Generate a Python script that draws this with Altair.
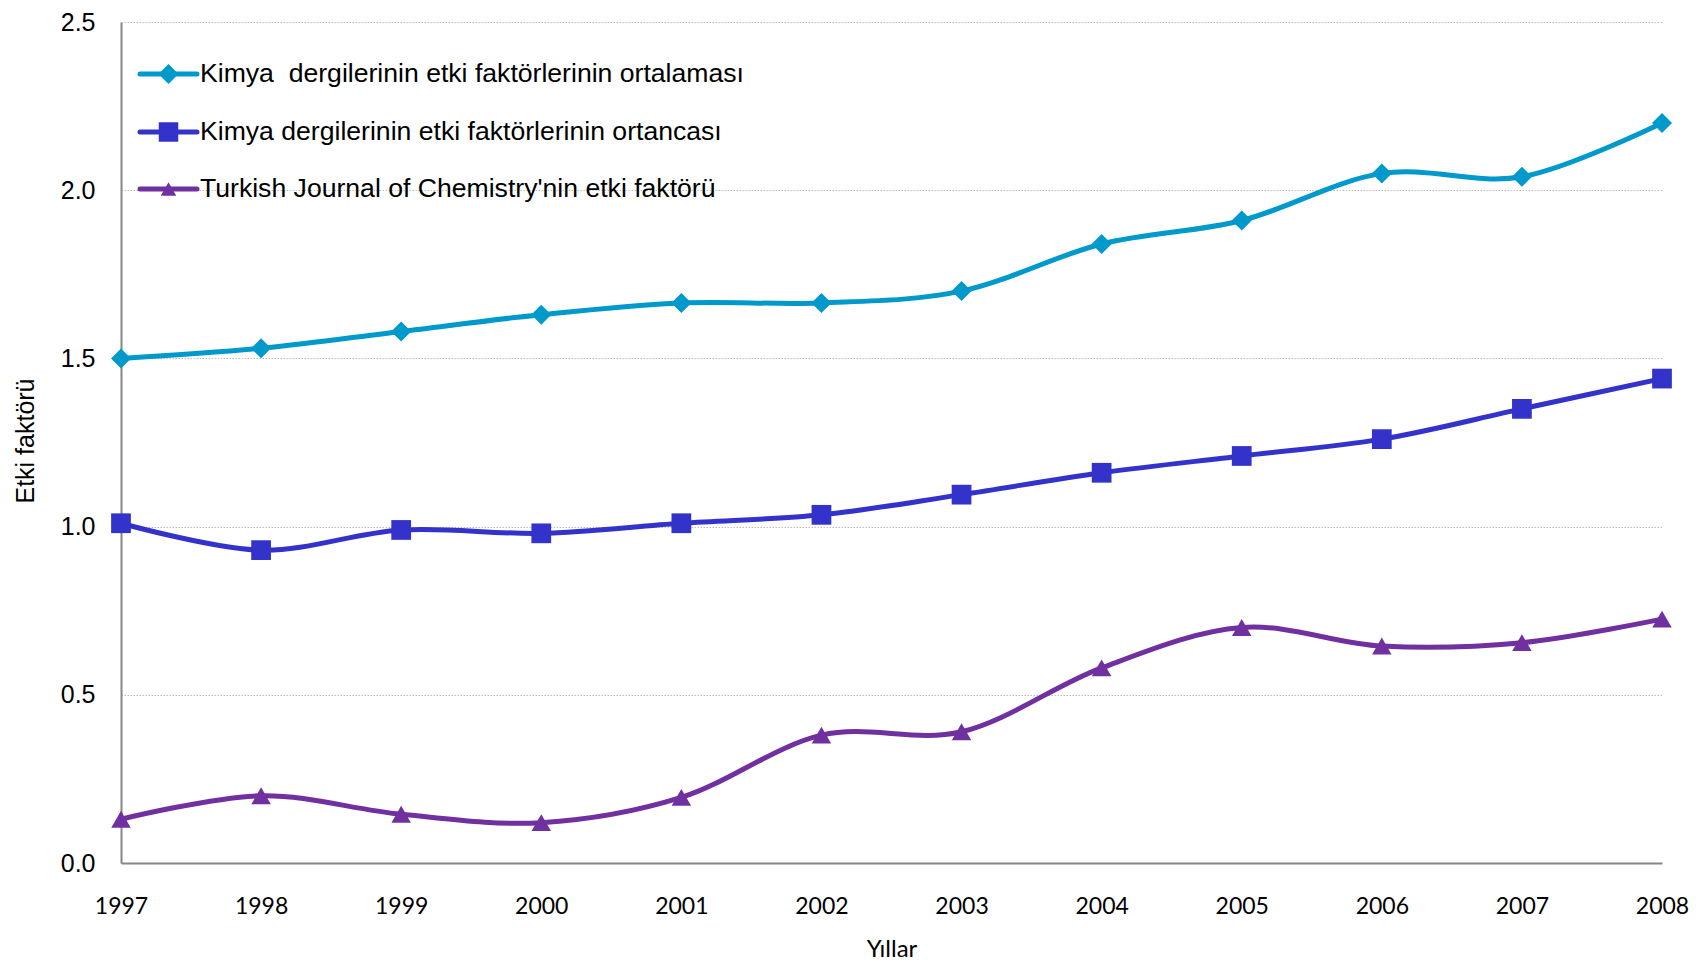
import altair as alt
import pandas as pd

# ---- data ----
years = [1997, 1998, 1999, 2000, 2001, 2002, 2003, 2004, 2005, 2006, 2007, 2008]
series_names = [
    "Kimya\u00a0 dergilerinin etki faktörlerinin ortalaması",
    "Kimya dergilerinin etki faktörlerinin ortancası",
    "Turkish Journal of Chemistry'nin etki faktörü",
]
mean_values = [1.50, 1.53, 1.58, 1.63, 1.665, 1.665, 1.70, 1.84, 1.91, 2.05, 2.04, 2.20]
median_values = [1.01, 0.93, 0.99, 0.98, 1.01, 1.035, 1.095, 1.16, 1.21, 1.26, 1.35, 1.44]
tjc_values = [0.13, 0.20, 0.145, 0.12, 0.195, 0.38, 0.39, 0.58, 0.70, 0.645, 0.655, 0.725]
y_ticks = [0.0, 0.5, 1.0, 1.5, 2.0, 2.5]

colors = ["#0099CC", "#3333CC", "#7030A0"]
shapes = ["diamond", "square", "triangle-up"]
sizes = [400, 380, 240]

all_values = [mean_values, median_values, tjc_values]
rows = []
for name, vals in zip(series_names, all_values):
    for yr, v in zip(years, vals):
        rows.append({"year": yr, "value": v, "series": name})
df = pd.DataFrame(rows)

W, H = 1541, 841

x_enc = alt.X(
    "year:Q",
    scale=alt.Scale(domain=[years[0], years[-1]], nice=False, zero=False),
    axis=alt.Axis(
        values=years, format="d", title="Yıllar", grid=False, ticks=False, tickSize=0,
        labelPadding=50, labelBaseline="alphabetic", labelFlush=False, labelOverlap=False,
        labelFont="Lato", labelFontSize=23, labelColor="black",
        domainColor="#868686", domainWidth=2,
        titleFont="Lato", titleFontSize=24, titleFontWeight="normal", titleColor="black",
        titleY=93, titleBaseline="alphabetic",
    ),
)
y_enc = alt.Y(
    "value:Q",
    scale=alt.Scale(domain=[0, 2.5], nice=False),
    axis=alt.Axis(
        values=y_ticks, format=".1f", title="Etki faktörü", grid=True,
        gridColor="#BFBFBF", gridDash=[1.5, 1.5], gridWidth=1,
        ticks=False, tickSize=0, labelPadding=26,
        labelFont="Liberation Sans", labelFontSize=25, labelColor="black",
        domainColor="#868686", domainWidth=2,
        titleFont="Liberation Sans", titleFontSize=25, titleFontWeight="normal",
        titleColor="black", titleX=-88, titleY=H / 2 - 2, titleBaseline="alphabetic",
    ),
)

color_scale = alt.Scale(domain=series_names, range=colors)
shape_scale = alt.Scale(domain=series_names, range=shapes)
size_scale = alt.Scale(domain=series_names, range=sizes)

base = alt.Chart(df)
lines = base.mark_line(interpolate="cardinal", strokeWidth=5).encode(
    x=x_enc, y=y_enc,
    color=alt.Color("series:N", scale=color_scale, legend=None),
    detail="series:N",
)
points = base.mark_point(filled=True, opacity=1).encode(
    x="year:Q", y="value:Q",
    color=alt.Color("series:N", scale=color_scale, legend=None),
    shape=alt.Shape("series:N", scale=shape_scale, legend=None),
    size=alt.Size("series:N", scale=size_scale, legend=None),
)

# ---- manual legend (layout constants in pixels) ----
legend_y = [52, 110, 167]
legend_layers = []
for i, name in enumerate(series_names):
    ldf = pd.DataFrame({"label": [name]})
    lc = alt.Chart(ldf)
    legend_layers.append(
        lc.mark_rule(color=colors[i], strokeWidth=5, strokeCap="round").encode(
            x=alt.value(19), x2=alt.value(76), y=alt.value(legend_y[i])
        )
    )
    legend_layers.append(
        lc.mark_point(shape=shapes[i], filled=True, opacity=1, color=colors[i],
                      size=sizes[i]).encode(x=alt.value(47.5), y=alt.value(legend_y[i]))
    )
    legend_layers.append(
        lc.mark_text(align="left", baseline="middle", font="Liberation Sans",
                     fontSize=26.6, color="black").encode(
            x=alt.value(79), y=alt.value(legend_y[i]), text="label:N"
        )
    )

chart = alt.layer(lines, points, *legend_layers).properties(
    width=W, height=H,
    autosize=alt.AutoSizeParams(type="none"),
    padding={"left": 113, "top": 14, "right": 37, "bottom": 100},
    background="white",
).configure_view(stroke=None)

chart.save("out.html", embed_options={"renderer": "svg", "actions": False})
